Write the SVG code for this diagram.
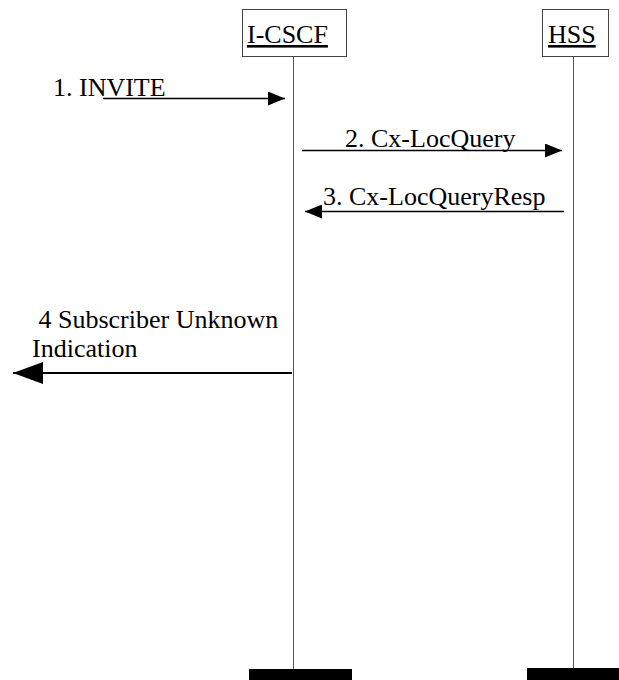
<svg xmlns="http://www.w3.org/2000/svg" width="619" height="680" viewBox="0 0 619 680">
<style>
  text { font-family: "Liberation Serif", "Times New Roman", serif; font-size: 26px; fill: #000; }
  .box { fill: #fff; stroke: #444; stroke-width: 1; }
  .life { stroke: #555; stroke-width: 1; fill: none; }
  .msg { stroke: #000; stroke-width: 1.3; fill: none; }
  .msg4 { stroke: #000; stroke-width: 2; fill: none; }
  .bar { fill: #000; }
</style>
<defs>
  <marker id="ah" markerWidth="18" markerHeight="14" refX="17" refY="7" orient="auto" markerUnits="userSpaceOnUse">
    <path d="M0,0 L17,7 L0,14 Z" fill="#000"/>
  </marker>
  <marker id="ahBig" markerWidth="31" markerHeight="22" refX="30" refY="11" orient="auto" markerUnits="userSpaceOnUse">
    <path d="M0,0 L30,11 L0,22 Z" fill="#000"/>
  </marker>
</defs>
<g id="icscf">
  <rect class="box" x="242.5" y="9.5" width="104" height="47"/>
  <text x="247" y="43" text-decoration="underline">I-CSCF</text>
  <line class="life" x1="293.5" y1="57" x2="293.5" y2="669"/>
  <rect class="bar" x="249" y="669" width="103" height="11"/>
</g>
<g id="hss">
  <rect class="box" x="542.5" y="9.5" width="66" height="47"/>
  <text x="548" y="43" text-decoration="underline">HSS</text>
  <line class="life" x1="573.5" y1="57" x2="573.5" y2="668"/>
  <rect class="bar" x="527" y="668" width="92" height="12"/>
</g>
<g id="connectors">
  <line class="msg" x1="103" y1="98.5" x2="285" y2="98.5" marker-end="url(#ah)"/>
  <line class="msg" x1="302" y1="150.5" x2="562" y2="150.5" marker-end="url(#ah)"/>
  <line class="msg" x1="564" y1="211.5" x2="305" y2="211.5" marker-end="url(#ah)"/>
  <line class="msg4" x1="292" y1="373" x2="13" y2="373" marker-end="url(#ahBig)"/>
</g>
<g id="labels">
  <text x="53" y="96">1. INVITE</text>
  <text x="345" y="147">2. Cx-LocQuery</text>
  <text x="323" y="205">3. Cx-LocQueryResp</text>
  <text x="32" y="328" xml:space="preserve"> 4 Subscriber Unknown</text>
  <text x="32" y="357">Indication</text>
</g>
</svg>
